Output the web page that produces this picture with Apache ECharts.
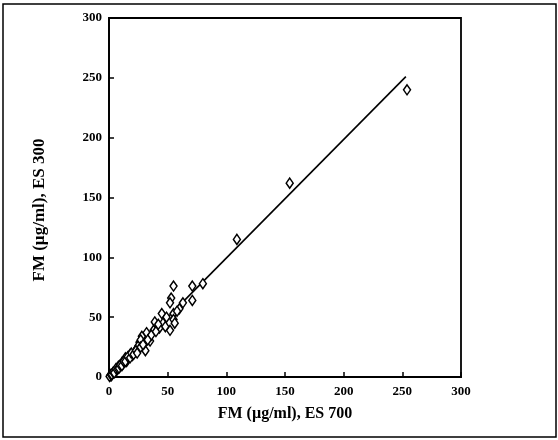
<!DOCTYPE html>
<html>
<head>
<meta charset="utf-8">
<script src="https://cdn.jsdelivr.net/npm/echarts@6/dist/echarts.min.js"></script>
<style>html,body{margin:0;padding:0;background:#fff}#c{width:558px;height:440px}</style>
</head>
<body>
<div id="c"></div>
<script>
// Tick values
const xTicks = [0, 50, 100, 150, 200, 250, 300];
const yTicks = [0, 50, 100, 150, 200, 250, 300];
// Axis titles
const xTitle = 'FM (µg/ml), ES 700';
const yTitle = 'FM (µg/ml), ES 300';
// Measured points: FM ES 700 (x) vs FM ES 300 (y)
const pointsX = [254, 154, 109, 80, 71, 55, 71, 53, 52, 63, 60, 55, 45, 49, 55, 46, 56, 43, 39, 38, 32, 28, 31, 52, 35, 30, 26, 24, 22, 20, 18, 16, 15, 13, 12, 10, 9, 8, 7, 6, 5, 4, 3, 2, 1, 0.5, 14, 11, 17, 25, 27, 36, 40, 42, 48, 58,
  1.5, 2.5, 3.5, 4.5, 6, 7.5, 8.5, 9.5, 11, 12.5, 14, 16, 18, 19, 21, 23, 24, 27, 29, 33];
const pointsY = [240, 162, 115, 78, 76, 76, 64, 66, 62, 62, 57, 53, 53, 50, 48, 45, 45, 41, 46, 39, 37, 34, 22, 39, 30, 28, 29, 24, 21, 18, 19, 15, 13, 13, 11, 10, 8, 9, 6, 6, 4, 4, 3, 1, 1, 0.5, 16, 12, 17, 26, 31, 35, 38, 44, 42, 55,
  2, 2, 4, 3.5, 7, 7, 7.5, 10, 9.5, 13, 13, 17, 16, 20, 19, 22, 20, 25, 27, 31];
// Regression line end points
const fitX = [0, 253];
const fitY = [0.3, 251];

const chart = echarts.init(document.getElementById('c'));
const font = 'Liberation Serif';
chart.setOption({
  animation: false,
  backgroundColor: '#fff',
  grid: {left: 109, right: 97, top: 18, bottom: 63, show: true, borderColor: '#000', borderWidth: 1.8, backgroundColor: 'transparent'},
  xAxis: {
    type: 'value', min: 0, max: 300, interval: 50,
    axisLine: {show: true, lineStyle: {color: '#000', width: 1.8}},
    axisTick: {show: true, inside: true, length: 5, lineStyle: {color: '#000', width: 1.5}},
    splitLine: {show: false},
    axisLabel: {color: '#000', fontFamily: font, fontWeight: 'bold', fontSize: 13, margin: 8},
    name: xTitle, nameLocation: 'middle', nameGap: 29,
    nameTextStyle: {color: '#000', fontFamily: font, fontWeight: 'bold', fontSize: 16}
  },
  yAxis: {
    type: 'value', min: 0, max: 300, interval: 50,
    axisLine: {show: true, lineStyle: {color: '#000', width: 1.8}},
    axisTick: {show: true, inside: true, length: 5, lineStyle: {color: '#000', width: 1.5}},
    splitLine: {show: false},
    axisLabel: {color: '#000', fontFamily: font, fontWeight: 'bold', fontSize: 13, margin: 7}
  },
  graphic: [{
    type: 'rect', shape: {x: 3, y: 4, width: 553, height: 433},
    style: {fill: 'none', stroke: '#000', lineWidth: 1.5}, z: 100
  }, {
    type: 'text', x: 40, y: 210, rotation: Math.PI / 2,
    style: {text: yTitle, fill: '#000', font: 'bold 17px "Liberation Serif"', align: 'center', verticalAlign: 'middle'}
  }],
  series: [{
    type: 'line',
    data: fitX.map((x, i) => [x, fitY[i]]),
    symbol: 'none',
    lineStyle: {color: '#000', width: 1.6},
    z: 2
  }, {
    type: 'scatter',
    data: pointsX.map((x, i) => [x, pointsY[i]]),
    symbol: 'diamond', symbolSize: [7, 10],
    itemStyle: {color: '#fff', borderColor: '#000', borderWidth: 1.5, opacity: 1},
    z: 3
  }]
});
</script>
</body>
</html>
